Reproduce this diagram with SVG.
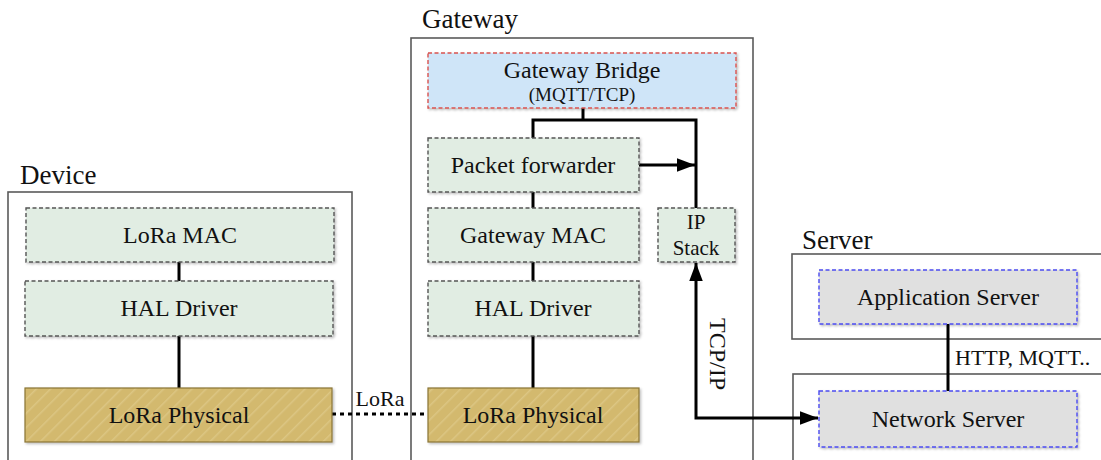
<svg xmlns="http://www.w3.org/2000/svg" width="1101" height="460" viewBox="0 0 1101 460" font-family="Liberation Serif, Times New Roman, serif">
<style>
text{fill:#111}
.lbl{font-size:27px}
.t{font-size:24px;text-anchor:middle;dominant-baseline:central}
.cont{fill:#fff;stroke:#5a5a5a;stroke-width:1.6}
.green{fill:#e1ede3;stroke:#555;stroke-width:1.4;stroke-dasharray:4 2.5}
.phys{fill:url(#hatch);stroke:#8a7536;stroke-width:1.2}
.blue{fill:#cfe5f8;stroke:#d9534f;stroke-width:1.4;stroke-dasharray:4 2.5}
.grey{fill:#e0e0e0;stroke:#4a4af0;stroke-width:1.4;stroke-dasharray:4 2.5}
.ln{fill:none;stroke:#000;stroke-width:3}
</style>
<defs>
<pattern id="hatch" width="10" height="10" patternUnits="userSpaceOnUse" patternTransform="rotate(45)">
<rect width="10" height="10" fill="#d3b96e"/>
<line x1="0" y1="0" x2="0" y2="10" stroke="#dcc683" stroke-width="3"/>
</pattern>
<filter id="sh" x="-5%" y="-10%" width="110%" height="130%">
<feDropShadow dx="1.5" dy="1.5" stdDeviation="1.2" flood-color="#000" flood-opacity="0.25"/>
</filter>
<marker id="ah" viewBox="0 0 12 9" refX="12" refY="4.5" markerWidth="6" markerHeight="4.5" markerUnits="strokeWidth" orient="auto">
<path d="M0,0 L12,4.5 L0,9 z" fill="#000"/>
</marker>
<marker id="ahs" viewBox="0 0 12 9" refX="0" refY="4.5" markerWidth="6" markerHeight="4.5" markerUnits="strokeWidth" orient="auto">
<path d="M12,0 L0,4.5 L12,9 z" fill="#000"/>
</marker>
</defs>

<g id="device">
<rect class="cont" x="8" y="192" width="344" height="280"/>
<text class="lbl" font-family="Liberation Serif, serif" x="20" y="184">Device</text>
</g>
<g id="gateway">
<rect class="cont" x="411" y="38" width="342" height="434"/>
<text class="lbl" font-family="Liberation Serif, serif" x="422" y="28">Gateway</text>
</g>
<g id="server">
<rect class="cont" x="792" y="254" width="320" height="85"/>
<text class="lbl" font-family="Liberation Serif, serif" x="802" y="249">Server</text>
</g>
<g id="server2">
<rect class="cont" x="793" y="374" width="320" height="100"/>
</g>

<g id="connectors">
<line class="ln" x1="179" y1="262" x2="179" y2="281"/>
<line class="ln" x1="179" y1="336" x2="179" y2="388"/>
<line x1="332" y1="414" x2="428" y2="414" stroke="#000" stroke-width="3" stroke-dasharray="4 4"/>
<polyline class="ln" points="583,108 583,120"/>
<polyline class="ln" points="533,138 533,120 696,120 696,208"/>
<line class="ln" x1="639" y1="165" x2="695" y2="165" marker-end="url(#ah)"/>
<line class="ln" x1="533" y1="192" x2="533" y2="208"/>
<line class="ln" x1="533" y1="262" x2="533" y2="281"/>
<line class="ln" x1="533" y1="336" x2="533" y2="388"/>
<polyline class="ln" points="696,263 696,418 818,418" marker-start="url(#ahs)" marker-end="url(#ah)"/>
<line class="ln" x1="948" y1="324" x2="948" y2="391"/>
</g>

<g id="lora-mac"><rect class="green" filter="url(#sh)" x="26" y="208" width="308" height="54"/><text class="t" font-family="Liberation Serif, serif" x="180" y="235">LoRa MAC</text></g>
<g id="dev-hal"><rect class="green" filter="url(#sh)" x="25" y="281" width="308" height="55"/><text class="t" font-family="Liberation Serif, serif" x="179" y="308">HAL Driver</text></g>
<g id="dev-phys"><rect class="phys" filter="url(#sh)" x="25" y="388" width="307" height="54"/><text class="t" font-family="Liberation Serif, serif" x="179" y="415">LoRa Physical</text></g>

<g id="gw-bridge"><rect class="blue" filter="url(#sh)" x="428" y="53" width="308" height="55"/><text class="t" font-family="Liberation Serif, serif" x="582" y="70">Gateway Bridge</text><text font-family="Liberation Serif, serif" x="582" y="94" style="font-size:19px;text-anchor:middle;dominant-baseline:central">(MQTT/TCP)</text></g>
<g id="pkt-fwd"><rect class="green" filter="url(#sh)" x="428" y="138" width="211" height="54"/><text class="t" font-family="Liberation Serif, serif" x="533" y="165">Packet forwarder</text></g>
<g id="gw-mac"><rect class="green" filter="url(#sh)" x="428" y="208" width="211" height="54"/><text class="t" font-family="Liberation Serif, serif" x="533" y="235">Gateway MAC</text></g>
<g id="gw-hal"><rect class="green" filter="url(#sh)" x="428" y="281" width="211" height="55"/><text class="t" font-family="Liberation Serif, serif" x="533" y="308">HAL Driver</text></g>
<g id="gw-phys"><rect class="phys" filter="url(#sh)" x="428" y="388" width="211" height="54"/><text class="t" font-family="Liberation Serif, serif" x="533" y="415">LoRa Physical</text></g>
<g id="ip-stack"><rect class="green" filter="url(#sh)" x="658" y="208" width="77" height="54"/><text font-family="Liberation Serif, serif" x="696" y="222" style="font-size:21px;text-anchor:middle;dominant-baseline:central">IP</text><text font-family="Liberation Serif, serif" x="696" y="248" style="font-size:21px;text-anchor:middle;dominant-baseline:central">Stack</text></g>

<g id="app-server"><rect class="grey" filter="url(#sh)" x="819" y="270" width="258" height="54"/><text class="t" font-family="Liberation Serif, serif" x="948" y="297">Application Server</text></g>
<g id="net-server"><rect class="grey" filter="url(#sh)" x="819" y="391" width="258" height="56"/><text class="t" font-family="Liberation Serif, serif" x="948" y="419">Network Server</text></g>

<g id="labels">
<text font-family="Liberation Serif, serif" x="380" y="398" style="font-size:22px;text-anchor:middle;dominant-baseline:central">LoRa</text>
<text font-family="Liberation Serif, serif" x="955" y="365" style="font-size:22px">HTTP, MQTT..</text>
<text font-family="Liberation Serif, serif" transform="translate(718,354) rotate(90)" style="font-size:24px;text-anchor:middle;dominant-baseline:central">TCP/IP</text>
</g>
</svg>
